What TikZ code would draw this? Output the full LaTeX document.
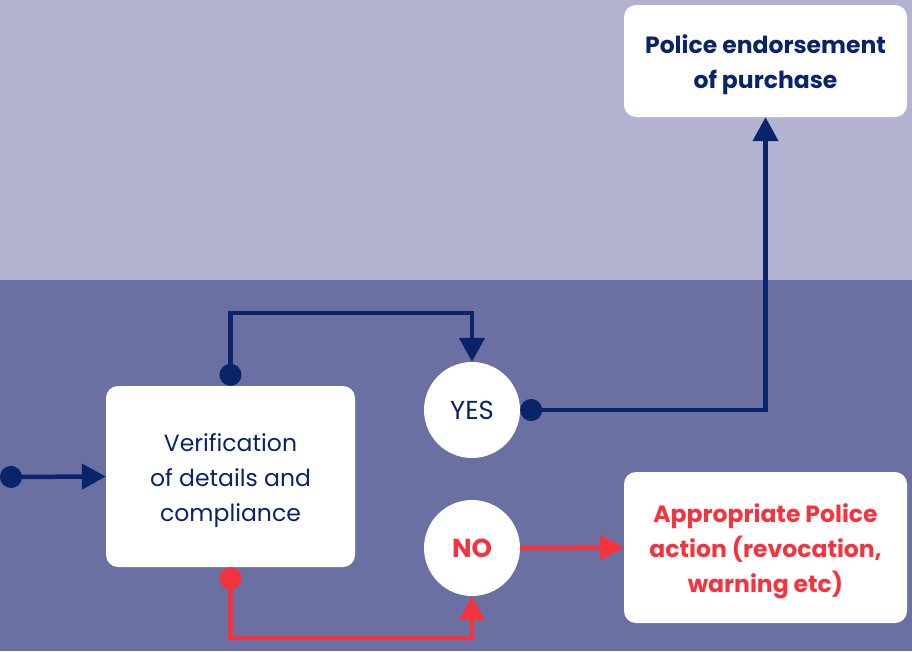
\documentclass[tikz,border=0pt]{standalone}
\usepackage{fontspec}
\setmainfont{Poppins}
\usetikzlibrary{arrows.meta}
\definecolor{navy}{HTML}{0A246A}
\definecolor{alertred}{HTML}{F5333F}
\definecolor{upperbg}{HTML}{B3B3D1}
\definecolor{lowerbg}{HTML}{6B70A3}
\newcommand{\padtop}{\rule{0pt}{26pt}}

\begin{document}
\begin{tikzpicture}[x=1pt,y=-1pt,
	box/.style={fill=white, rounded corners=12pt, align=center, inner sep=0pt, minimum width=283pt},
	answer/.style={circle, fill=white, minimum size=96pt, inner sep=0pt, font={\fontsize{26}{30}\selectfont}},
	link/.style={line width=4.5pt, {Circle[length=22pt]}-{Triangle[length=24pt,width=25pt]}},
	plainlink/.style={line width=4.5pt, -{Triangle[length=24pt,width=25pt]}},
	font={\fontsize{23.5}{35}\selectfont}]
	\fill[upperbg] (0,0) rectangle (912,280);
	\fill[lowerbg] (0,280) rectangle (912,651);
	\useasboundingbox (0,0) rectangle (912,651);
	\node[box, minimum width=249pt, minimum height=181pt, text=navy] (check) at (230.5,476.5) {\padtop Verification\\of details and\\compliance};
	\node[answer, text=navy] (yes) at (472,410) {YES};
	\node[answer, text=alertred, font={\fontsize{26}{30}\selectfont\bfseries}] (no) at (472,548) {NO};
	\node[box, minimum height=112pt, text=navy, font={\fontsize{23.5}{35}\selectfont\bfseries}] (endorse) at (765.5,61) {\padtop Police endorsement\\of purchase};
	\node[box, minimum height=151pt, text=alertred, font={\fontsize{23.5}{35}\selectfont\bfseries}] (action) at (765.5,547.5) {\padtop Appropriate Police\\action (revocation,\\warning etc)};
	\coordinate (src) at (0,477);
	\draw[link, navy] (src) -- (check.west);
	\draw[link, navy] (check.north) -- ++(0,-73) -| (yes.north);
	\draw[link, navy] (yes.east) -| (endorse.south);
	\draw[link, alertred] (check.south) -- ++(0,71) -| (no.south);
	\draw[plainlink, alertred] (no.east) -- (action.west);
\end{tikzpicture}
\end{document}
